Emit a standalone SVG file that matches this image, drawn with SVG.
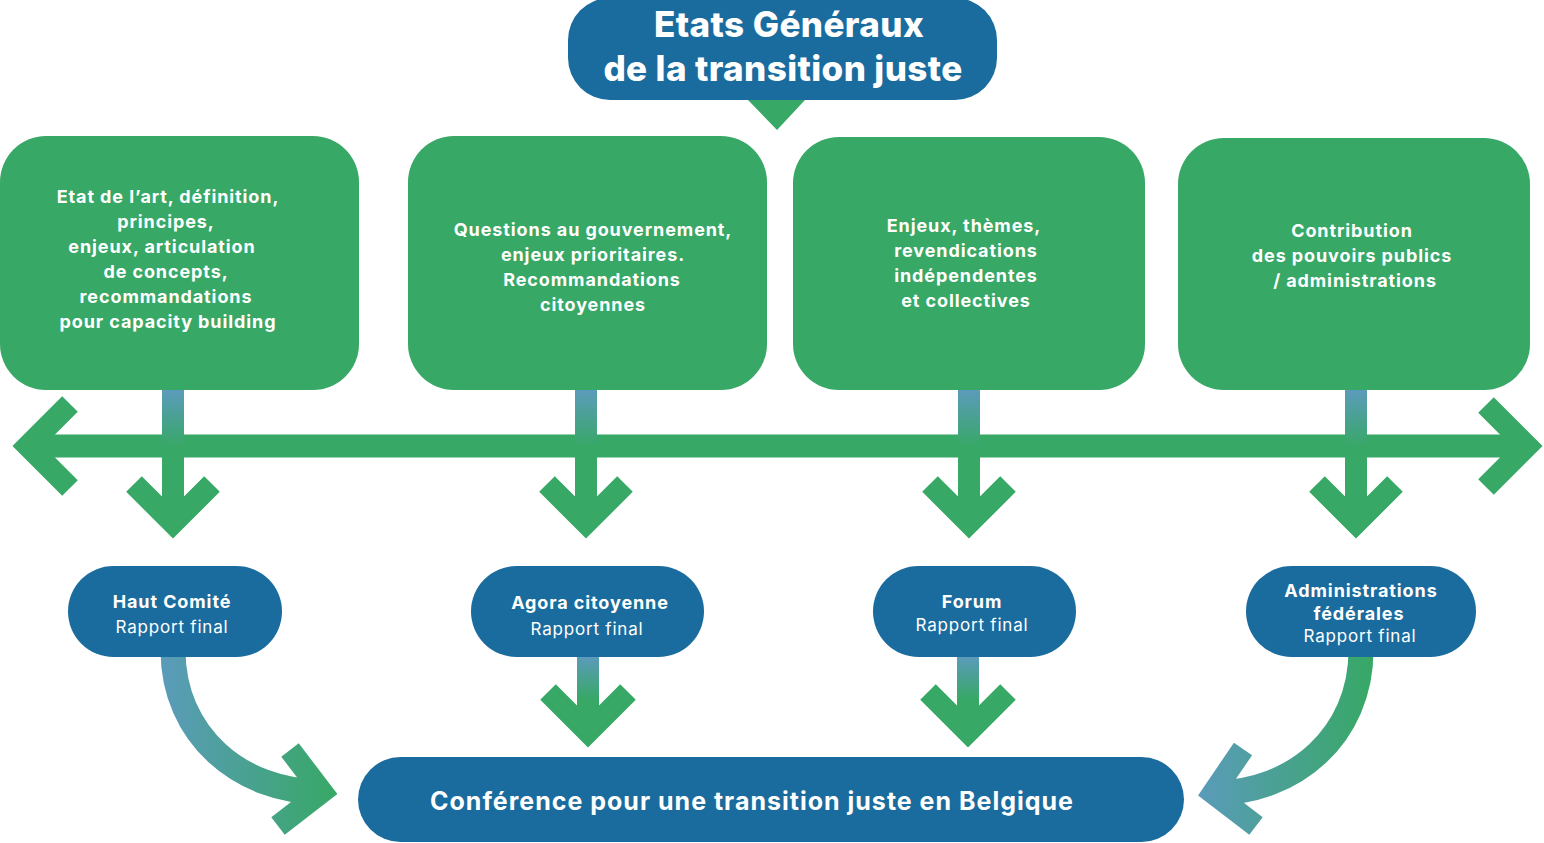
<svg xmlns="http://www.w3.org/2000/svg" width="1544" height="843" viewBox="0 0 1544 843">
<defs>
<style>
.green{fill:#37a865}
.blue{fill:#1b6c9e}
.t{font-family:Inter,"Open Sans","Liberation Sans",sans-serif;fill:#ffffff;text-anchor:middle}
.box{font-size:18px;font-weight:700;letter-spacing:0.9px}
.sub{font-size:17px;font-weight:400;letter-spacing:0.8px}
.title{font-size:35px;font-weight:800;letter-spacing:0.4px}
.conf{font-size:25px;font-weight:700;letter-spacing:1px}
.bar{fill:none;stroke:#37a865;stroke-width:23}
.chev{fill:none;stroke:#37a865;stroke-width:22;stroke-linejoin:miter;stroke-linecap:butt;stroke-miterlimit:10}
</style>
<linearGradient id="gTop" gradientUnits="userSpaceOnUse" x1="0" y1="390" x2="0" y2="448">
<stop offset="0" stop-color="#5b9bbb"/><stop offset="1" stop-color="#37a865"/>
</linearGradient>
<linearGradient id="gBot" gradientUnits="userSpaceOnUse" x1="0" y1="657" x2="0" y2="700">
<stop offset="0" stop-color="#5b9bbb"/><stop offset="1" stop-color="#37a865"/>
</linearGradient>
<linearGradient id="gLeft" gradientUnits="userSpaceOnUse" x1="160" y1="0" x2="337" y2="0">
<stop offset="0" stop-color="#5b9bbb"/><stop offset="1" stop-color="#37a865"/>
</linearGradient>
<linearGradient id="gRight" gradientUnits="userSpaceOnUse" x1="1197" y1="0" x2="1373" y2="0">
<stop offset="0" stop-color="#5b9bbb"/><stop offset="1" stop-color="#37a865"/>
</linearGradient>
</defs>
<rect width="1544" height="843" fill="#ffffff"/>

<g id="connectors">
<polygon class="green" points="748,100 805,100 777,130"/>
<line class="bar" x1="28" y1="446" x2="1527" y2="446"/>
<polyline class="chev" points="70,404 28,446 70,488"/>
<polyline class="chev" points="1486,405 1527,446 1486,487"/>
<g>
<rect x="162" y="388" width="22" height="135" fill="url(#gTop)"/>
<polyline class="chev" points="134,484 173,523 212,484"/>
<rect x="575" y="388" width="22" height="135" fill="url(#gTop)"/>
<polyline class="chev" points="547,484 586,523 625,484"/>
<rect x="958" y="388" width="22" height="135" fill="url(#gTop)"/>
<polyline class="chev" points="930,484 969,523 1008,484"/>
<rect x="1345" y="388" width="22" height="135" fill="url(#gTop)"/>
<polyline class="chev" points="1317,484 1356,523 1395,484"/>
</g>
<g>
<rect x="577" y="655" width="22" height="77" fill="url(#gBot)"/>
<polyline class="chev" points="548,692 588,732 628,692"/>
<rect x="957" y="655" width="22" height="77" fill="url(#gBot)"/>
<polyline class="chev" points="928,692 968,732 1008,692"/>
</g>
<g>
<path d="M173,650 C173,735 240,792 322,792" fill="none" stroke="url(#gLeft)" stroke-width="25"/>
<polyline points="290,750 322,792 278,826" fill="none" stroke="url(#gLeft)" stroke-width="22" stroke-linejoin="miter"/>
<path d="M1361,650 C1361,735 1295,793 1213,793" fill="none" stroke="url(#gRight)" stroke-width="25"/>
<polyline points="1243,749 1213,793 1256,826" fill="none" stroke="url(#gRight)" stroke-width="22" stroke-linejoin="miter"/>
</g>
</g>

<g id="title">
<rect class="blue" x="568" y="-2" width="429" height="102" rx="42"/>
<text class="t title" x="789" y="37">Etats Généraux</text>
<text class="t title" x="783" y="81">de la transition juste</text>
</g>

<g id="box1">
<rect class="green" x="0" y="136" width="359" height="254" rx="46"/>
<text class="t box" x="168" y="203">Etat de l’art, définition,</text>
<text class="t box" x="166" y="228">principes,</text>
<text class="t box" x="162" y="253">enjeux, articulation</text>
<text class="t box" x="166" y="278">de concepts,</text>
<text class="t box" x="166" y="303">recommandations</text>
<text class="t box" x="168" y="328">pour capacity building</text>
</g>

<g id="box2">
<rect class="green" x="408" y="136" width="359" height="254" rx="46"/>
<text class="t box" x="593" y="236">Questions au gouvernement,</text>
<text class="t box" x="593" y="261">enjeux prioritaires.</text>
<text class="t box" x="592" y="286">Recommandations</text>
<text class="t box" x="593" y="311">citoyennes</text>
</g>

<g id="box3">
<rect class="green" x="793" y="137" width="352" height="253" rx="46"/>
<text class="t box" x="964" y="232">Enjeux, thèmes,</text>
<text class="t box" x="966" y="257">revendications</text>
<text class="t box" x="966" y="282">indépendentes</text>
<text class="t box" x="966" y="307">et collectives</text>
</g>

<g id="box4">
<rect class="green" x="1178" y="138" width="352" height="252" rx="46"/>
<text class="t box" x="1352" y="237">Contribution</text>
<text class="t box" x="1352" y="262">des pouvoirs publics</text>
<text class="t box" x="1355" y="287">/ administrations</text>
</g>

<g id="node-haut">
<rect class="blue" x="68" y="566" width="214" height="91" rx="45.5"/>
<text class="t box" x="172" y="608">Haut Comité</text>
<text class="t sub" x="172" y="633">Rapport final</text>
</g>

<g id="node-agora">
<rect class="blue" x="471" y="566" width="233" height="91" rx="45.5"/>
<text class="t box" x="590" y="609">Agora citoyenne</text>
<text class="t sub" x="587" y="635">Rapport final</text>
</g>

<g id="node-forum">
<rect class="blue" x="873" y="566" width="203" height="91" rx="45.5"/>
<text class="t box" x="972" y="608">Forum</text>
<text class="t sub" x="972" y="631">Rapport final</text>
</g>

<g id="node-admin">
<rect class="blue" x="1246" y="566" width="230" height="91" rx="45.5"/>
<text class="t box" x="1361" y="597">Administrations</text>
<text class="t box" x="1359" y="620">fédérales</text>
<text class="t sub" x="1360" y="642">Rapport final</text>
</g>

<g id="conference">
<rect class="blue" x="358" y="757" width="826" height="85" rx="42.5"/>
<text class="t conf" x="752" y="810">Conférence pour une transition juste en Belgique</text>
</g>
</svg>
